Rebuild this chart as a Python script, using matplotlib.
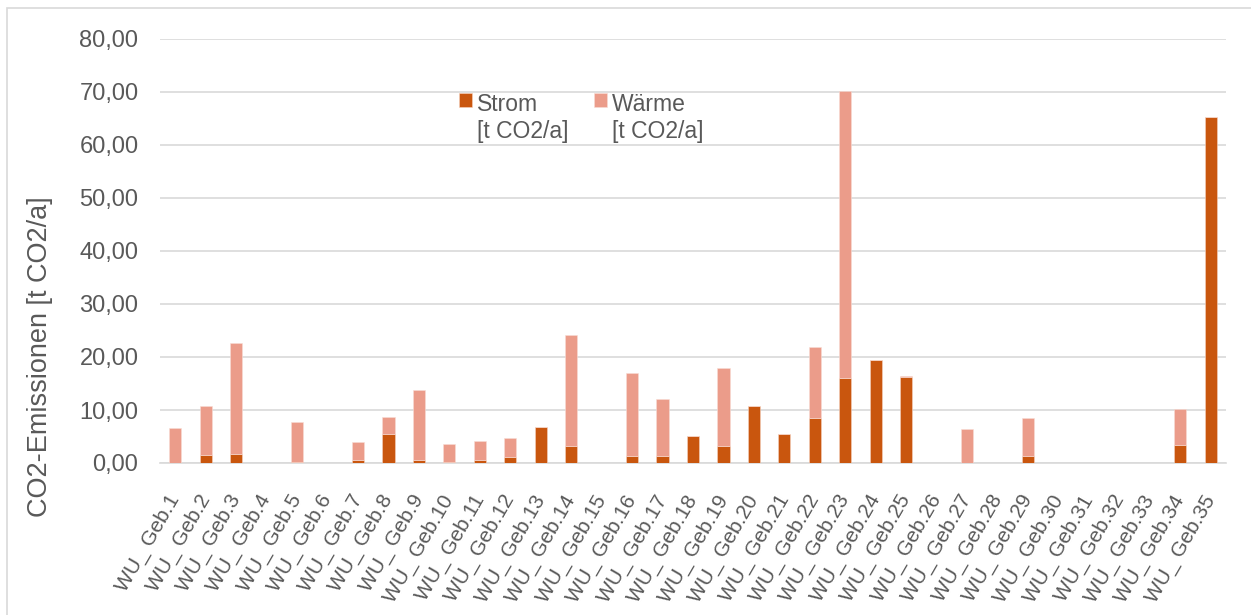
import matplotlib
matplotlib.use('Agg')
import matplotlib.pyplot as plt
from matplotlib.patches import Rectangle
import numpy as np

plt.rcParams['font.family'] = ['Liberation Sans', 'DejaVu Sans']

# data (t CO2/a)
buildings = ['WU_ Geb.%d' % i for i in range(1, 36)]
totals = [6.6, 10.75, 22.6, 0, 7.7, 0, 4.0, 8.75, 13.7, 3.5,
          4.1, 4.65, 6.8, 24.1, 0, 16.9, 12.1, 5.15, 17.9, 10.8,
          5.47, 21.9, 70.2, 19.4, 16.4, 0, 6.4, 0, 8.5, 0,
          0, 0, 0, 10.2, 65.3]
strom = [0, 1.57, 1.7, 0, 0.25, 0, 0.57, 5.47, 0.57, 0.25,
         0.63, 1.07, 6.8, 3.2, 0, 1.4, 1.4, 5.15, 3.2, 10.8,
         5.47, 8.55, 16.1, 19.4, 16.3, 0, 0, 0, 1.4, 0,
         0, 0, 0, 3.45, 65.3]
waerme = [max(t - s, 0) for t, s in zip(totals, strom)]

c_strom = '#C9560E'
c_waerme = '#EB9C8A'
grey = '#595959'
fs = 16.5

fig = plt.figure(figsize=(12.51, 6.15), dpi=100)
# light frame around the chart area
fig.patches.append(Rectangle((7 / 1251, -0.05), 1.1, 1 - 8 / 615 + 0.05,
                             transform=fig.transFigure, fill=False,
                             edgecolor='#D9D9D9', linewidth=1.2))

ax = fig.add_axes([160 / 1251, 1 - 463 / 615, 1066 / 1251, 424 / 615])
x = np.arange(len(buildings))
ax.bar(x, strom, width=0.4, color=c_strom, edgecolor='#F6D3C0', linewidth=0.4,
       label='Strom\n[t CO2/a]', zorder=3)
ax.bar(x, waerme, width=0.4, bottom=strom, color=c_waerme, edgecolor='#F8DDD5',
       linewidth=0.4, label='Wärme\n[t CO2/a]', zorder=3)

ax.set_xlim(-0.5, len(buildings) - 0.5)
ax.set_ylim(0, 80)
ax.set_yticks(np.arange(0, 81, 10))
ax.set_yticklabels(['%d,00' % v for v in range(0, 81, 10)])
ax.grid(axis='y', color='#D9D9D9', linewidth=1.2, zorder=0)
for s in ['top', 'right', 'left']:
    ax.spines[s].set_visible(False)
ax.spines['bottom'].set_color('#D9D9D9')
ax.spines['bottom'].set_linewidth(1.2)
ax.tick_params(axis='both', length=0, colors=grey)
ax.tick_params(axis='y', pad=15.5, labelsize=17)

ax.set_xticks(x)
ax.set_xticklabels(buildings, rotation=60, ha='right', va='center',
                   rotation_mode='anchor')
ax.tick_params(axis='x', pad=24, labelsize=15)

# axis title placed like the Excel one (low, not centred on the plot)
fig.text(40 / 1251, 1 - 357 / 615, 'CO2-Emissionen [t CO2/a]', rotation=90,
         ha='center', va='center', fontsize=19.5, color=grey)

leg = ax.legend(ncol=2, frameon=False, fontsize=fs, loc='upper left',
                bbox_to_anchor=(459 / 1251, 1 - 93 / 615),
                bbox_transform=fig.transFigure, borderpad=0,
                handlelength=0.55, handleheight=0.55, handletextpad=0.25,
                columnspacing=1.1, borderaxespad=0)
for t in leg.get_texts():
    t.set_color(grey)
# put the square next to the first line of the two-line label
for h in leg.legend_handles:
    h.set_y(h.get_y() + 13.3)

fig.savefig('out.png', dpi=100)
